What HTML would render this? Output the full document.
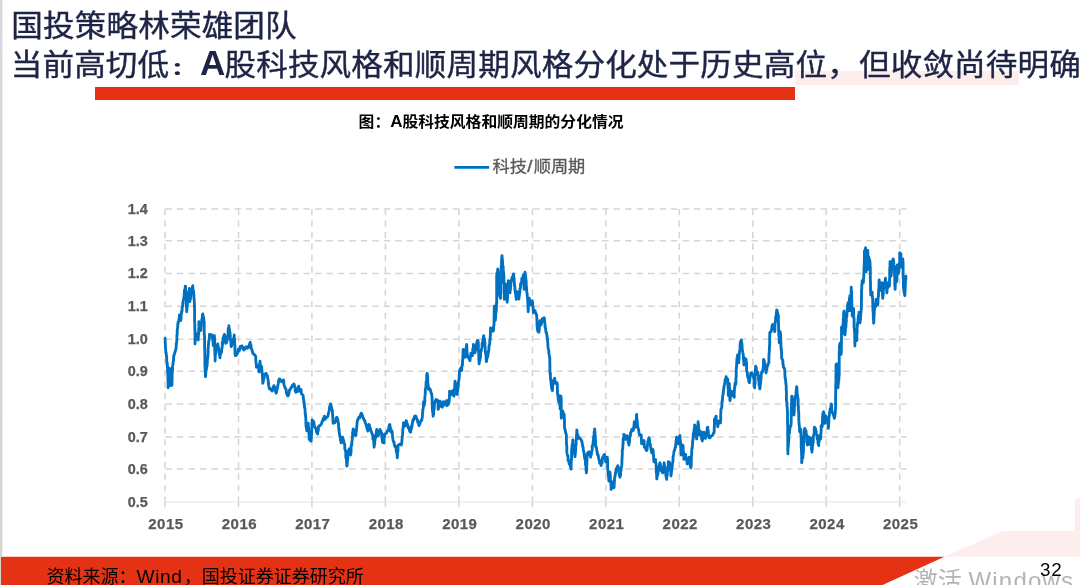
<!DOCTYPE html>
<html lang="zh-CN">
<head>
<meta charset="utf-8">
<title>国投策略林荣雄团队</title>
<style>
html,body{margin:0;padding:0;}
body{width:1080px;height:585px;overflow:hidden;background:#fff;position:relative;
 font-family:"Liberation Sans","Noto Sans CJK SC",sans-serif;}
.abs{position:absolute;white-space:nowrap;}
#strip{left:0;top:0;width:2px;height:557px;background:linear-gradient(180deg,#d7d8de 0,#d6d7db 40%,#d5d5d0 100%);}
#strip3{left:2px;top:0;width:1px;height:557px;background:#eeeeef;}
#strip2{left:0;top:557px;width:1.3px;height:28px;background:#d6d6ce;}
.title{color:#1e2446;font-size:31.6px;line-height:40px;letter-spacing:0.13px;-webkit-text-stroke:0.4px #1e2446;transform:scaleY(0.93);}
#t1{left:11.3px;top:5px;transform-origin:0 34.4px;}
#t2{left:10.7px;top:43px;transform-origin:0 34.4px;}
#t2 b{font-weight:700;font-size:35px;line-height:40px;margin-left:-1.0px;margin-right:-1.0px;-webkit-text-stroke:0;display:inline-block;transform:scaleY(1.0753);transform-origin:0 32.1px;vertical-align:baseline;}
#t2 i{font-style:normal;display:inline-block;line-height:40px;-webkit-text-stroke:3px #1e2446;transform:scale(0.68,0.536);transform-origin:9.4px 27.2px;}
#pink1{left:795px;top:71px;width:224px;height:14px;background:#fdedec;}
#redbar{left:94.7px;top:87.1px;width:700.2px;height:12.5px;background:#e63214;}
#sub{left:358.6px;top:110.4px;font-size:15.8px;font-weight:700;color:#000;line-height:24px;transform:scaleY(0.95);transform-origin:0 19px;}
#sub b{font-size:17px;line-height:24px;display:inline-block;transform:scaleY(1.05);transform-origin:0 18.6px;margin-right:-0.1px;}
#legend{left:492.5px;top:154.4px;font-size:17.2px;color:#595959;line-height:24px;-webkit-text-stroke:0.3px #595959;transform:scaleY(0.93);transform-origin:0 19.5px;}
#legend span{font-size:18.5px;-webkit-text-stroke:0.5px #595959;margin:0 1.4px 0 0.3px;}
#chart{left:0;top:0;}
#footer{left:46.6px;top:565.2px;font-size:18px;color:#000;line-height:24px;}
#pg{left:1040px;top:558.3px;font-size:18.8px;color:#000;line-height:24px;letter-spacing:0.8px;}
#wm{left:913.8px;top:564.6px;font-size:24px;color:#b4b4b4;line-height:32px;}
</style>
</head>
<body>
<svg id="chart" class="abs" width="1080" height="585" viewBox="0 0 1080 585">
  <polygon points="944.4,556.7 1080,497.3 1080,556.7" fill="#fdedec"/>
  <rect x="100" y="105" width="975" height="426" fill="#ffffff"/>
  <polygon points="0,556.7 944.4,556.7 882.6,585 0,585" fill="#e63214"/>
  <g stroke="#d5d5d5" stroke-width="1.5" fill="none">
<line x1="165.5" y1="208.9" x2="906.4" y2="208.9" stroke-dasharray="6.4 5.09"/>
<line x1="165.5" y1="240.8" x2="906.4" y2="240.8" stroke-dasharray="6.4 5.09"/>
<line x1="165.5" y1="273.5" x2="906.4" y2="273.5" stroke-dasharray="6.4 5.09"/>
<line x1="165.5" y1="306.3" x2="906.4" y2="306.3" stroke-dasharray="6.4 5.09"/>
<line x1="165.5" y1="339.2" x2="906.4" y2="339.2" stroke-dasharray="6.4 5.09"/>
<line x1="165.5" y1="371.2" x2="906.4" y2="371.2" stroke-dasharray="6.4 5.09"/>
<line x1="165.5" y1="404.1" x2="906.4" y2="404.1" stroke-dasharray="6.4 5.09"/>
<line x1="165.5" y1="436.9" x2="906.4" y2="436.9" stroke-dasharray="6.4 5.09"/>
<line x1="165.5" y1="469.1" x2="906.4" y2="469.1" stroke-dasharray="6.4 5.09"/>
<line x1="165.0" y1="208.9" x2="165.0" y2="502" stroke-dasharray="6.4 5.1"/>
<line x1="165.0" y1="502" x2="165.0" y2="507.3"/>
<line x1="238.5" y1="208.9" x2="238.5" y2="502" stroke-dasharray="6.4 5.1"/>
<line x1="238.5" y1="502" x2="238.5" y2="507.3"/>
<line x1="311.9" y1="208.9" x2="311.9" y2="502" stroke-dasharray="6.4 5.1"/>
<line x1="311.9" y1="502" x2="311.9" y2="507.3"/>
<line x1="385.4" y1="208.9" x2="385.4" y2="502" stroke-dasharray="6.4 5.1"/>
<line x1="385.4" y1="502" x2="385.4" y2="507.3"/>
<line x1="458.9" y1="208.9" x2="458.9" y2="502" stroke-dasharray="6.4 5.1"/>
<line x1="458.9" y1="502" x2="458.9" y2="507.3"/>
<line x1="532.4" y1="208.9" x2="532.4" y2="502" stroke-dasharray="6.4 5.1"/>
<line x1="532.4" y1="502" x2="532.4" y2="507.3"/>
<line x1="605.8" y1="208.9" x2="605.8" y2="502" stroke-dasharray="6.4 5.1"/>
<line x1="605.8" y1="502" x2="605.8" y2="507.3"/>
<line x1="679.3" y1="208.9" x2="679.3" y2="502" stroke-dasharray="6.4 5.1"/>
<line x1="679.3" y1="502" x2="679.3" y2="507.3"/>
<line x1="752.8" y1="208.9" x2="752.8" y2="502" stroke-dasharray="6.4 5.1"/>
<line x1="752.8" y1="502" x2="752.8" y2="507.3"/>
<line x1="826.2" y1="208.9" x2="826.2" y2="502" stroke-dasharray="6.4 5.1"/>
<line x1="826.2" y1="502" x2="826.2" y2="507.3"/>
<line x1="899.7" y1="208.9" x2="899.7" y2="502" stroke-dasharray="6.4 5.1"/>
<line x1="899.7" y1="502" x2="899.7" y2="507.3"/>
  </g>
  <line x1="165.0" y1="502" x2="906.0" y2="502" stroke="#e3e3e3" stroke-width="1.2"/>
  <line x1="454.4" y1="167.4" x2="489.2" y2="167.4" stroke="#0070c0" stroke-width="2.7"/>
  <polyline points="165.0,338.3 165.2,339.7 165.2,341.9 165.2,342.4 165.4,344.5 165.4,347.0 165.6,347.8 165.6,349.6 165.7,349.7 165.9,353.2 166.2,352.9 166.3,354.4 166.7,357.5 166.7,358.9 166.7,360.3 166.9,362.1 167.3,363.6 167.3,365.2 167.3,367.2 167.6,367.8 167.6,369.1 167.6,370.8 167.6,372.1 167.7,373.2 167.9,374.9 167.9,377.2 167.9,378.6 168.0,381.1 168.1,381.5 168.1,382.6 168.1,383.6 168.1,386.9 168.1,387.8 168.2,387.3 168.2,385.0 168.3,383.6 168.3,381.2 168.5,379.4 168.6,378.2 168.6,375.9 168.6,375.7 168.8,372.5 168.8,370.5 168.8,370.0 168.8,370.1 168.9,367.8 168.9,369.4 169.2,371.1 169.2,372.6 169.4,374.1 169.4,375.9 169.6,377.1 169.6,378.8 169.6,378.3 170.0,380.1 170.0,383.8 170.0,384.3 170.0,385.6 170.0,384.5 170.0,382.0 170.1,380.7 170.4,378.8 170.4,378.7 170.4,375.4 170.4,374.9 170.6,374.5 170.6,371.2 170.6,369.8 170.6,368.9 170.7,370.9 170.7,372.2 170.7,373.5 170.7,374.8 170.9,376.7 170.9,378.6 171.5,379.9 171.5,380.7 171.5,382.2 171.7,383.8 171.7,385.6 172.0,384.3 172.0,381.6 172.0,381.0 172.1,378.9 172.1,378.2 172.1,377.9 172.1,374.8 172.2,372.8 172.5,371.3 172.5,370.6 172.5,367.4 172.5,366.7 172.6,365.9 172.9,365.0 173.1,362.2 173.4,361.6 173.5,360.5 173.6,357.3 173.6,357.1 173.9,355.6 174.1,355.1 174.6,353.4 175.2,351.5 175.6,350.0 176.0,349.2 176.2,346.7 176.2,346.0 176.3,343.6 176.7,342.2 176.8,340.9 176.9,339.8 176.9,338.3 176.9,335.7 176.9,335.0 177.2,334.5 177.2,332.7 177.2,330.7 177.5,328.4 177.7,327.2 177.7,327.6 177.8,325.0 178.1,322.1 178.1,323.2 178.7,321.0 178.9,319.6 179.2,318.7 179.3,317.5 179.4,315.0 179.5,315.8 179.8,318.5 180.3,320.2 180.6,320.6 181.0,318.9 181.1,316.2 181.1,316.7 181.2,314.6 181.5,313.8 181.5,311.6 182.1,311.0 182.1,308.2 182.2,307.2 182.7,306.5 182.7,302.9 183.0,303.7 183.1,301.4 183.3,300.1 183.5,300.0 183.9,297.2 184.1,295.9 184.2,294.3 184.4,292.1 184.4,290.4 184.8,289.8 185.1,288.9 185.2,288.1 185.3,286.1 185.6,286.5 185.6,288.8 185.6,290.2 185.8,291.9 185.8,293.2 186.1,296.0 186.1,296.8 186.1,297.4 186.3,298.8 186.3,301.4 186.3,304.3 186.3,305.8 186.6,307.9 186.7,309.0 186.7,310.7 186.7,311.7 186.7,311.2 186.8,310.2 187.2,306.0 187.4,305.2 187.4,305.0 187.4,303.4 187.4,302.2 187.7,300.3 187.7,299.3 187.8,297.2 187.8,295.1 188.2,294.2 188.4,292.4 189.1,291.0 189.1,290.8 189.4,288.9 189.4,288.5 189.4,293.3 189.4,294.0 189.8,293.8 189.8,297.7 189.8,299.5 189.8,301.4 189.8,301.7 190.1,300.5 190.1,299.0 190.4,299.0 190.7,296.7 190.7,295.8 191.1,293.8 191.1,291.7 191.6,289.5 192.2,288.8 192.4,287.0 192.8,285.6 192.8,287.5 192.9,289.1 193.2,290.6 193.6,291.6 193.6,294.0 193.9,295.0 193.9,296.0 193.9,298.0 194.2,299.5 194.2,301.2 194.4,302.9 194.4,304.9 194.4,305.9 194.5,306.4 194.5,307.9 194.6,310.7 194.6,311.7 194.6,312.4 194.6,315.9 194.6,315.7 194.6,318.2 194.6,320.5 194.6,321.4 194.8,323.7 194.8,324.7 194.8,325.4 194.8,327.6 194.8,329.0 195.0,330.8 195.0,332.5 195.0,333.0 195.0,334.4 195.0,336.9 195.0,336.9 195.0,339.4 195.0,341.4 195.0,342.4 195.0,343.9 195.1,342.5 195.2,340.9 195.6,338.6 195.7,337.4 195.7,336.0 195.9,333.3 196.1,333.3 196.7,335.1 197.1,336.0 197.6,338.7 197.9,339.1 198.3,340.0 198.3,338.3 198.4,335.6 198.6,334.0 198.7,333.9 198.7,331.0 198.7,330.0 198.7,329.3 198.7,328.0 198.8,327.4 198.9,325.6 198.9,322.4 198.9,321.7 198.9,322.3 199.4,325.0 199.7,324.9 200.1,327.4 200.2,328.8 200.6,330.6 200.9,329.6 200.9,327.8 201.2,325.9 201.3,322.5 201.7,321.9 201.8,321.6 201.8,319.8 202.1,318.2 202.4,316.9 202.4,314.8 202.8,313.9 203.1,315.8 203.4,316.9 203.6,317.8 203.9,319.4 203.9,320.4 204.2,322.1 204.2,324.0 204.2,327.2 204.2,326.7 204.2,329.3 204.2,328.1 204.2,331.9 204.3,334.7 204.5,335.0 204.5,336.6 204.6,337.8 204.6,338.9 204.6,339.6 204.6,342.1 204.6,345.1 204.6,345.9 204.6,346.5 204.6,348.5 204.8,350.1 204.8,352.4 204.8,352.7 204.9,355.2 204.9,355.2 204.9,356.7 204.9,359.3 204.9,359.8 204.9,362.4 204.9,363.3 204.9,366.0 205.1,367.1 205.1,367.8 205.1,369.8 205.3,369.4 205.3,373.6 205.4,372.6 205.4,374.0 205.4,376.7 205.7,375.1 205.7,373.5 205.9,372.2 205.9,369.7 206.4,369.6 206.5,367.6 207.0,365.9 207.0,366.0 207.2,363.3 207.3,361.5 207.4,359.8 207.4,359.0 207.8,357.7 207.9,355.2 208.1,354.3 208.1,352.3 208.1,351.3 208.1,349.5 208.1,348.5 208.3,346.7 208.6,343.7 208.6,342.9 208.7,341.3 208.8,341.0 209.3,339.6 209.3,337.7 209.5,334.9 209.5,334.4 210.7,334.7 212.2,335.0 212.3,336.4 212.5,338.6 212.9,340.9 212.9,340.6 213.2,343.7 213.2,344.3 213.3,345.6 213.4,344.1 213.9,342.7 214.0,341.9 214.0,338.5 214.1,338.8 214.4,337.3 214.4,335.6 214.5,338.3 214.6,338.3 214.6,339.4 214.7,342.2 214.7,343.7 214.7,346.8 214.8,347.1 214.8,348.7 214.8,350.2 214.8,351.7 214.9,352.7 214.9,355.1 215.1,356.1 215.1,358.7 215.1,360.1 215.1,361.1 215.1,359.0 215.2,359.1 215.2,356.1 215.6,353.6 215.7,353.2 215.8,350.7 216.1,350.0 216.3,347.0 217.0,346.5 217.2,346.1 217.8,343.9 218.0,345.8 218.1,345.8 218.7,349.2 218.7,349.9 218.9,351.8 219.5,354.4 219.5,354.2 219.7,356.2 220.0,357.8 220.1,355.4 220.5,353.2 220.7,353.8 220.9,353.8 221.6,351.1 221.7,348.9 222.1,347.8 222.3,345.8 222.3,342.1 222.6,344.0 222.6,343.6 222.9,340.2 223.0,338.5 223.3,337.8 223.6,336.7 224.0,335.6 224.4,334.4 224.9,336.3 224.9,337.3 225.3,338.0 225.3,341.5 225.5,342.7 225.8,343.3 226.5,342.5 226.9,341.4 227.2,340.0 227.2,339.2 227.7,336.0 227.7,336.4 228.1,334.5 228.1,332.8 228.1,331.3 228.3,328.3 228.4,329.5 228.8,326.7 228.9,325.6 228.9,326.9 229.4,329.3 229.7,331.2 229.7,331.4 230.1,333.6 230.3,335.9 230.3,336.7 230.3,337.7 230.5,339.9 230.8,341.4 230.9,342.2 231.0,344.4 231.0,344.1 231.2,346.7 231.8,345.0 231.8,344.5 232.3,342.9 232.8,341.1 232.9,340.8 233.4,339.0 234.1,336.7 234.2,335.0 234.2,338.2 234.2,336.7 234.6,340.5 234.6,341.8 234.7,343.0 234.8,345.3 234.9,346.1 234.9,346.2 235.0,349.6 235.0,350.3 235.0,352.4 235.1,353.5 235.3,355.6 236.2,355.3 236.9,354.6 237.8,352.2 238.4,349.1 239.0,351.2 240.0,348.9 240.2,346.3 241.1,346.1 242.2,346.0 243.2,348.9 243.9,350.0 244.4,349.5 245.2,347.9 246.1,346.7 247.4,348.2 248.3,347.8 248.7,346.2 249.2,345.5 249.9,343.0 250.2,342.2 250.6,344.0 250.9,345.1 251.0,346.8 251.4,348.9 252.0,349.6 252.2,351.1 252.9,353.4 254.0,354.3 254.6,354.9 255.6,356.1 255.8,357.5 255.8,359.8 255.9,361.2 256.1,362.6 256.1,363.8 256.4,365.4 256.4,367.2 257.3,365.9 258.3,365.6 258.7,367.4 258.7,368.2 258.7,371.0 258.9,371.7 259.0,371.8 259.1,366.7 259.1,367.1 259.7,365.1 259.7,362.9 260.0,363.3 260.0,361.1 260.0,362.1 260.3,364.1 260.3,364.4 260.7,365.6 260.7,367.6 260.8,370.3 261.1,371.1 261.1,367.9 261.5,367.9 261.7,366.7 261.7,368.8 261.7,367.9 262.0,373.1 262.0,372.0 262.4,374.9 262.4,375.4 262.5,377.5 262.5,378.4 262.7,379.1 262.7,382.6 262.8,383.3 263.1,382.0 263.3,381.1 263.7,379.3 264.1,377.8 264.3,376.9 264.4,374.4 265.0,374.1 266.1,373.3 266.7,374.6 267.2,375.6 267.5,376.7 267.7,378.1 268.0,379.5 268.2,380.5 268.4,383.5 268.7,385.5 268.8,386.1 269.2,387.5 269.4,388.9 270.2,388.3 271.1,390.0 272.2,391.1 272.6,389.8 273.1,389.0 273.2,387.4 273.9,385.6 274.4,386.7 274.8,387.9 275.0,389.2 275.3,390.7 275.9,392.4 276.1,393.3 276.7,391.9 276.7,390.5 277.4,388.0 277.7,386.1 277.8,386.7 277.9,385.2 278.2,384.0 278.7,380.3 279.3,380.5 279.4,378.9 280.1,379.4 280.9,380.9 281.7,381.7 282.8,380.5 283.6,380.0 283.8,381.7 283.9,383.6 284.1,385.0 284.4,386.1 285.1,387.6 285.2,388.3 286.0,389.0 286.4,392.5 286.8,393.9 287.3,395.3 287.8,396.1 288.4,393.9 288.7,394.9 289.0,393.0 289.4,390.0 290.4,389.2 291.0,387.6 291.7,387.2 292.4,385.3 293.0,386.0 293.9,383.9 294.4,385.3 294.4,386.4 294.9,386.7 295.2,387.8 295.2,390.8 295.8,392.2 297.2,391.7 297.4,390.3 298.0,388.3 298.5,387.0 298.7,386.1 298.9,387.7 298.9,389.0 299.1,390.6 299.4,391.1 300.1,390.3 300.9,389.4 301.2,391.1 301.3,393.4 301.7,393.9 302.0,394.2 303.0,395.1 303.3,396.7 303.3,398.3 303.8,400.2 303.8,402.3 304.0,402.0 304.3,405.6 304.4,406.1 304.6,407.7 305.0,408.6 305.1,409.9 305.1,412.1 305.4,415.1 305.6,415.0 305.6,416.0 305.8,418.3 305.9,420.4 305.9,421.0 305.9,422.7 305.9,423.9 306.1,426.2 306.1,426.7 306.3,427.5 306.8,430.7 306.9,430.6 307.3,429.6 307.6,429.1 307.7,426.3 307.9,424.7 308.3,423.3 308.3,424.1 308.4,426.5 308.7,428.2 308.7,429.1 308.7,429.7 308.9,431.9 308.9,434.0 309.2,435.7 309.2,438.4 309.2,438.9 310.0,440.1 311.1,441.1 311.1,439.5 311.4,438.0 311.4,434.8 311.4,435.6 311.6,433.1 311.6,431.3 311.8,429.7 311.8,427.6 311.9,427.8 311.9,424.9 311.9,425.0 311.9,423.3 312.1,422.5 312.1,420.0 312.5,420.7 313.3,421.1 314.0,422.8 314.0,423.9 314.4,426.0 315.0,427.2 315.6,428.2 316.1,428.9 316.5,432.1 317.2,433.0 317.6,433.9 317.6,433.0 318.3,429.3 318.3,430.8 318.5,426.7 318.9,426.1 319.9,425.7 320.6,425.0 321.5,423.8 322.1,421.5 322.8,421.1 323.1,418.8 323.7,418.9 323.9,417.6 324.4,416.1 324.4,416.9 324.7,419.0 325.0,419.4 325.8,418.1 326.7,417.2 327.1,417.3 328.0,415.9 328.3,413.9 328.7,412.3 328.9,411.9 329.3,409.9 329.4,408.3 329.8,406.2 330.0,406.3 330.6,403.9 331.1,405.5 331.1,406.4 331.8,408.6 332.0,409.4 332.4,411.0 332.4,413.4 332.6,414.1 332.6,416.0 332.9,418.0 332.9,418.6 332.9,422.0 333.0,421.5 333.3,423.3 334.1,421.6 334.9,422.6 335.6,420.6 336.1,420.1 336.3,417.8 336.7,417.2 337.1,417.8 337.8,419.7 338.0,420.6 338.0,421.9 338.5,423.9 338.5,425.9 338.5,425.8 338.8,429.6 339.1,428.9 339.1,431.7 339.4,432.8 339.4,434.1 340.0,436.4 340.0,436.6 340.3,437.6 340.4,440.1 340.8,440.4 341.1,442.8 341.2,441.8 341.6,439.6 341.8,438.2 342.2,437.2 342.6,437.1 343.3,439.8 343.9,441.1 344.0,443.4 344.7,444.0 344.8,446.3 344.8,449.0 345.2,450.1 345.6,450.6 345.8,453.4 345.8,453.5 345.8,455.6 345.9,457.8 346.2,458.2 346.5,460.0 346.6,461.1 346.6,462.2 346.7,465.2 346.9,466.1 347.2,465.3 347.2,463.7 347.4,461.0 347.6,459.4 347.8,458.6 347.9,457.0 348.0,454.1 348.0,453.2 348.3,451.5 348.3,450.6 348.9,450.4 349.1,448.9 349.6,450.9 349.8,451.6 350.2,453.1 350.6,455.0 350.8,452.9 351.1,451.4 351.1,450.9 351.1,449.9 351.1,445.3 351.4,446.0 351.8,445.0 351.8,442.8 351.9,442.3 352.1,440.5 352.3,438.7 352.6,435.5 352.6,435.0 352.6,432.0 353.1,433.0 353.1,429.4 353.3,428.9 354.0,430.9 354.1,431.2 354.5,432.8 355.0,433.9 355.4,435.5 355.8,435.6 356.0,434.1 356.0,432.1 356.4,431.4 356.4,430.2 356.7,427.5 356.7,425.9 357.0,425.1 357.0,423.6 357.2,421.7 357.8,419.2 358.3,419.0 358.9,417.2 359.7,417.8 360.4,415.2 361.1,413.3 361.6,413.4 362.4,415.6 362.8,417.2 363.3,418.0 363.8,419.4 364.4,420.0 364.8,420.9 365.1,422.2 365.9,424.2 366.1,425.2 366.7,426.7 367.0,428.7 367.5,428.7 367.8,431.1 367.9,430.2 368.0,429.8 368.6,426.5 368.6,426.9 368.9,424.4 369.5,425.1 369.5,427.1 370.4,428.5 370.6,430.0 370.9,430.9 371.5,432.0 372.1,433.9 372.8,435.0 372.8,437.8 372.9,439.1 373.5,438.8 373.5,440.1 373.8,441.8 373.8,444.5 374.0,444.3 374.1,447.2 374.3,444.6 374.7,444.1 374.7,442.4 374.8,441.3 375.1,439.8 375.2,438.7 375.6,437.2 375.8,434.8 376.2,434.2 376.2,434.0 376.5,431.1 376.7,429.4 376.8,430.0 377.1,430.9 377.4,433.7 377.6,434.7 377.8,436.1 378.3,435.8 378.9,433.6 379.1,431.1 379.5,432.6 380.0,429.4 380.7,430.9 381.2,431.9 381.7,433.3 381.7,433.9 381.8,437.4 381.8,436.2 382.0,438.7 382.3,439.4 382.3,441.7 383.0,442.7 383.9,442.8 384.0,441.7 384.0,439.1 384.4,436.3 384.6,436.8 384.6,435.1 384.7,433.9 385.7,433.9 386.7,432.8 387.3,430.8 388.3,430.6 388.8,428.0 388.8,428.2 389.3,425.3 389.8,424.4 390.1,426.4 390.1,427.4 390.5,428.1 390.5,429.1 390.6,431.7 391.7,430.6 392.0,431.3 392.2,433.0 392.4,435.0 392.5,436.3 392.8,438.3 393.0,439.7 393.2,440.7 393.9,442.6 394.0,442.0 394.4,445.0 395.0,446.7 395.4,446.0 396.1,448.3 396.2,449.7 396.4,452.2 396.4,452.0 396.9,453.3 397.2,456.6 397.2,457.8 397.4,456.5 397.4,455.7 397.5,453.1 398.0,450.6 398.0,449.7 398.0,449.0 398.0,448.0 398.0,446.5 398.3,445.0 399.3,444.6 400.0,443.9 401.1,445.0 401.1,445.1 401.7,443.7 401.9,441.1 401.9,439.8 402.2,438.3 402.2,436.7 402.6,434.7 402.7,433.3 402.7,430.7 402.8,429.7 403.1,428.1 403.1,427.4 403.1,427.8 403.4,425.4 403.4,422.8 403.6,424.0 404.1,424.5 404.7,426.1 405.2,425.8 405.3,423.1 405.8,422.0 406.1,420.6 406.3,420.9 407.1,423.8 407.4,424.0 407.8,426.1 408.2,428.0 408.9,427.3 409.1,429.4 410.0,431.7 410.6,432.2 410.6,430.3 411.4,429.2 411.4,427.6 411.7,425.3 412.0,426.7 412.2,423.9 412.5,422.3 413.0,419.7 413.6,420.4 413.9,418.3 414.9,415.9 415.6,416.1 416.0,416.3 416.6,418.9 417.2,419.4 417.6,420.7 417.7,422.5 418.5,421.7 418.8,424.9 419.1,425.6 419.4,423.1 419.9,424.1 420.2,422.2 421.2,420.3 421.7,420.6 421.9,418.9 422.2,417.9 422.4,416.5 422.4,415.8 422.6,412.3 422.8,411.7 422.8,409.5 423.1,408.8 423.1,408.6 423.4,407.1 423.4,405.2 423.6,401.7 423.6,401.7 423.9,402.0 424.0,402.9 424.4,405.0 424.4,403.6 424.6,402.5 424.8,401.5 424.8,398.2 424.8,397.9 424.9,396.6 425.2,394.4 425.3,393.0 425.3,390.9 425.3,389.7 425.6,388.3 426.0,386.8 426.0,385.9 426.1,383.9 426.1,381.7 426.7,381.0 426.7,378.6 426.7,378.7 426.7,374.6 426.9,375.0 427.2,373.3 427.2,375.2 427.4,374.8 427.7,377.2 427.7,379.4 427.7,380.5 427.7,383.5 428.0,384.9 428.1,383.9 428.1,385.1 428.5,387.6 428.5,389.4 429.4,389.3 430.0,388.9 430.3,390.2 430.8,391.6 431.4,394.0 431.7,393.9 431.7,394.5 431.9,397.2 432.1,397.3 432.1,400.4 432.2,401.7 432.2,402.8 432.3,404.0 432.3,406.1 432.3,408.1 432.3,409.4 432.5,409.9 432.6,411.9 433.0,413.2 433.0,414.6 433.1,416.1 433.1,416.3 433.7,413.4 433.7,412.6 433.7,408.8 434.1,409.9 434.2,407.9 434.4,404.8 434.4,403.9 435.0,402.6 435.4,400.6 436.1,399.4 436.7,399.7 437.8,400.6 437.8,401.8 438.1,402.6 438.1,404.9 438.1,407.2 438.1,408.3 438.3,409.4 438.6,407.5 438.7,406.0 439.4,406.7 439.5,405.4 439.6,403.1 440.0,401.1 440.3,401.9 440.7,404.0 441.5,403.8 441.7,406.7 442.3,407.2 442.7,404.7 442.7,403.3 443.3,401.7 444.1,402.7 444.2,403.3 445.0,405.0 445.4,403.8 445.9,401.4 446.7,400.6 446.7,402.3 446.9,402.3 447.1,404.8 447.2,405.6 447.6,404.4 448.4,404.3 448.9,402.8 448.9,402.6 449.2,400.3 449.3,398.8 449.4,397.2 449.5,395.6 449.6,394.7 449.6,393.0 449.6,391.1 449.7,391.5 450.3,393.6 450.6,395.0 450.9,393.1 451.8,393.0 452.4,391.0 452.8,390.6 453.3,391.8 453.3,393.3 453.5,395.1 453.9,396.1 454.2,394.2 454.2,392.8 454.3,391.9 454.3,391.0 454.5,388.6 454.7,388.0 454.8,386.4 454.8,383.6 455.0,383.7 455.0,381.1 455.5,383.8 455.6,384.2 455.9,383.9 456.1,386.1 456.1,387.4 456.3,389.4 456.5,390.2 456.6,391.7 456.8,394.4 457.2,394.4 457.2,392.9 457.6,391.2 457.9,389.5 457.9,388.5 457.9,388.3 458.3,386.1 458.3,383.8 458.5,382.3 458.5,381.7 458.9,379.8 459.1,378.9 459.2,377.8 459.2,376.5 459.3,375.1 459.4,372.8 459.8,369.7 460.1,370.3 460.6,368.3 461.3,368.7 461.7,370.6 461.7,369.1 461.9,366.7 462.3,363.9 462.5,365.0 462.5,363.2 462.6,359.7 462.8,359.4 462.8,359.7 462.9,356.1 463.0,354.7 463.0,353.2 463.0,351.5 463.1,351.2 463.3,349.4 463.9,352.3 464.1,352.3 464.5,354.7 464.5,354.2 465.0,357.2 465.3,355.4 465.3,353.9 465.6,351.3 465.6,351.1 466.2,349.3 466.2,348.6 466.2,346.9 466.5,346.9 466.7,344.4 466.7,346.7 466.9,347.0 466.9,348.3 466.9,350.0 467.1,351.3 467.1,353.7 467.5,355.2 467.5,356.3 467.6,357.2 468.2,357.4 469.3,359.0 470.0,360.6 470.2,358.2 470.3,357.9 470.4,356.0 470.7,355.3 470.9,353.3 471.4,353.7 472.4,355.6 472.5,354.6 472.7,352.7 472.8,350.4 472.8,348.7 473.2,349.8 473.4,346.2 473.4,344.4 473.6,346.1 473.9,347.9 474.3,348.9 474.7,350.4 474.8,351.7 475.0,352.8 475.2,351.6 475.6,350.2 476.0,347.0 476.1,345.5 476.5,344.8 476.7,343.3 477.3,340.7 478.0,340.6 478.3,342.4 478.3,342.5 478.4,345.3 478.4,346.7 478.4,346.4 478.4,349.9 478.6,351.8 478.6,351.5 478.8,353.8 478.8,356.4 478.8,356.9 478.8,359.8 479.0,361.1 479.0,360.9 479.1,363.9 479.2,362.6 479.6,361.4 480.1,359.0 480.1,357.6 480.6,357.0 480.6,353.5 480.6,351.7 481.1,351.7 481.1,351.0 481.8,348.0 482.0,347.0 482.1,343.4 482.3,343.9 482.5,342.8 482.8,341.7 483.0,339.5 483.3,337.5 483.5,338.6 483.7,335.6 483.8,337.7 484.1,339.0 484.5,338.7 484.5,340.9 484.9,342.1 484.9,345.0 485.0,346.1 485.0,346.3 485.2,349.0 485.4,352.2 485.4,352.1 485.9,354.8 486.1,354.7 486.1,357.6 486.1,358.1 486.1,359.2 486.4,361.7 486.6,360.2 487.0,358.2 487.7,356.8 487.8,356.1 487.9,354.6 488.3,353.2 488.3,351.5 488.5,351.6 488.9,349.7 488.9,346.9 489.1,345.4 489.4,345.0 489.7,343.7 489.8,339.8 489.9,340.5 490.2,340.0 490.2,338.3 490.2,337.1 490.3,335.7 490.5,334.1 490.5,331.3 490.5,329.9 490.6,329.4 490.6,327.8 491.0,328.2 491.5,330.3 492.2,331.1 493.1,331.1 493.6,330.0 493.6,327.8 493.6,326.5 493.7,326.7 494.0,324.2 494.0,321.1 494.0,320.8 494.0,320.2 494.1,316.6 494.1,315.9 494.2,313.5 494.2,310.6 494.2,310.9 494.2,309.2 494.4,307.2 494.4,306.1 494.4,306.2 494.4,309.1 494.8,310.1 494.8,312.3 494.8,313.0 494.8,314.6 494.8,316.0 495.3,317.8 495.3,318.8 495.3,320.6 495.3,319.6 495.6,317.7 495.6,316.4 495.6,315.4 495.8,314.3 496.0,312.1 496.3,310.1 496.3,309.1 496.4,307.1 496.4,306.1 496.4,303.2 496.7,304.3 496.7,300.9 496.7,299.9 496.7,298.2 496.7,296.2 496.7,294.8 496.7,294.1 496.7,292.4 496.7,290.3 496.7,288.8 496.7,288.7 496.7,285.3 496.7,284.1 496.7,283.4 496.7,282.5 496.7,280.4 496.7,278.7 496.7,276.5 496.7,275.0 496.8,273.7 497.1,272.8 497.5,271.3 497.8,268.9 498.1,271.6 498.3,271.3 498.3,274.0 498.5,275.6 498.5,276.4 498.7,278.3 498.8,279.3 499.0,281.3 499.0,282.5 499.0,284.2 499.3,285.8 499.3,287.5 499.3,288.0 499.3,291.0 499.3,292.8 499.4,293.9 499.9,296.0 500.0,297.0 500.6,298.3 500.7,297.3 500.7,294.4 500.7,292.6 500.7,292.6 500.7,291.2 500.7,287.9 500.7,288.1 500.7,285.1 500.7,285.3 501.0,283.6 501.0,281.2 501.0,279.3 501.0,278.1 501.0,275.1 501.2,275.7 501.2,273.2 501.2,271.8 501.2,268.9 501.2,269.9 501.2,267.2 501.2,266.2 501.5,264.7 501.5,262.7 501.5,261.0 501.7,258.6 501.8,259.5 501.8,256.8 502.0,255.6 502.1,257.6 502.1,258.7 502.5,259.7 502.6,261.6 502.6,262.7 502.7,264.6 502.8,266.1 503.2,266.6 503.2,268.3 503.2,270.4 503.5,271.9 503.5,271.4 503.6,273.7 503.8,274.8 503.9,276.4 503.9,278.3 503.9,280.3 503.9,281.8 503.9,283.4 504.1,284.6 504.1,285.5 504.1,287.5 504.1,288.6 504.1,290.7 504.1,293.1 504.4,293.3 504.4,295.9 504.4,296.3 504.4,297.5 504.4,299.4 504.4,298.1 504.7,297.3 505.0,294.3 505.0,292.9 505.0,291.2 505.3,291.4 505.3,288.8 505.5,287.4 505.7,286.4 505.7,283.9 505.9,286.1 506.0,288.1 506.1,288.3 506.1,290.4 506.2,290.9 506.6,293.8 506.6,294.6 506.7,296.3 507.0,298.1 507.2,298.1 507.2,299.8 507.2,302.2 507.2,300.7 507.5,298.9 507.5,297.4 507.5,294.2 507.5,295.2 507.8,292.5 507.8,291.6 508.0,290.6 508.0,287.1 508.0,286.5 508.1,286.3 508.3,283.2 508.4,282.8 508.4,280.6 508.4,282.5 508.7,283.4 508.8,284.5 509.0,286.4 509.6,287.8 509.8,290.5 510.0,292.6 510.0,292.8 510.2,289.7 510.4,289.8 510.5,288.0 510.8,286.4 510.8,286.1 510.8,283.2 511.2,281.6 511.2,280.6 511.6,279.9 511.8,278.4 512.2,277.2 512.6,277.1 513.2,275.6 513.6,273.9 513.7,274.6 513.8,277.3 514.2,278.7 514.2,280.1 514.2,282.4 514.4,282.8 514.4,285.3 514.7,285.2 514.9,287.2 514.9,289.0 515.2,291.3 515.3,291.6 515.3,293.2 515.7,293.5 515.9,297.0 516.2,297.9 516.2,299.4 516.4,297.5 516.5,297.5 516.6,295.6 517.1,294.2 517.2,291.7 517.4,292.9 517.8,294.6 518.2,295.7 518.4,298.4 518.9,298.9 518.9,297.5 519.4,295.7 519.4,293.6 519.7,293.5 519.9,290.7 519.9,290.4 520.0,288.3 520.5,288.1 520.5,285.1 520.9,283.1 521.4,282.9 521.7,281.7 521.8,278.5 522.4,278.7 522.8,277.5 523.1,277.6 523.3,275.0 523.3,277.6 523.6,278.2 523.6,280.1 523.6,280.9 523.8,282.3 523.8,284.0 523.9,286.0 524.1,286.2 524.1,288.3 524.1,289.4 524.3,287.4 524.3,285.0 524.3,284.5 524.6,283.5 524.6,281.7 524.7,279.9 524.7,278.2 524.7,276.2 525.0,275.8 525.0,273.2 525.0,272.2 525.1,274.3 525.6,275.6 525.6,276.6 525.9,278.3 525.9,279.8 526.1,280.5 526.2,283.3 526.3,285.7 526.3,286.3 526.3,285.7 526.7,289.4 526.7,291.4 526.8,292.0 527.1,293.2 527.2,295.1 527.5,297.6 527.5,298.2 527.6,299.4 527.8,301.0 527.8,303.4 527.8,303.1 528.0,305.2 528.1,307.5 528.1,309.7 528.2,309.7 528.2,311.7 528.3,310.1 528.3,307.8 528.3,306.5 528.6,305.5 528.8,303.3 528.9,304.8 529.1,301.3 529.1,300.4 529.4,298.3 529.6,301.2 529.9,301.1 529.9,301.8 530.1,303.4 530.6,305.0 531.2,303.3 531.7,302.7 532.2,300.6 532.6,302.7 532.6,303.4 532.7,305.6 533.0,306.9 533.0,307.4 533.2,310.7 533.4,312.0 533.4,312.8 534.1,312.0 535.0,310.6 535.4,312.0 536.0,313.7 536.7,315.0 536.7,316.3 536.7,317.4 536.9,318.1 536.9,319.9 537.0,322.0 537.0,321.7 537.0,325.7 537.0,325.1 537.4,328.3 537.4,329.4 537.8,331.2 538.2,331.8 538.9,332.2 539.2,330.5 539.3,328.9 539.3,327.2 539.3,327.1 539.6,325.2 539.8,323.0 539.8,322.8 540.0,320.6 540.6,321.9 540.8,323.5 541.1,325.0 541.4,323.7 541.8,321.9 541.8,320.3 542.2,318.9 543.0,318.6 544.2,317.8 544.5,319.2 544.5,320.2 544.6,321.0 544.8,323.1 545.0,324.2 545.0,326.1 545.1,327.0 545.6,328.5 545.6,328.9 545.9,331.7 546.1,332.8 546.4,332.2 546.7,334.0 547.2,337.2 547.2,338.5 547.6,339.2 547.6,342.0 547.9,343.9 547.9,344.8 547.9,346.8 548.2,348.0 548.3,349.4 548.8,350.5 548.8,352.4 549.1,354.4 549.4,356.0 549.4,357.2 549.6,356.7 549.8,358.2 549.8,359.8 549.8,362.0 549.8,362.5 549.8,364.3 549.9,364.8 549.9,368.0 549.9,369.3 549.9,370.0 549.9,370.3 550.1,373.8 550.4,373.0 550.4,376.8 550.4,377.5 550.6,379.5 550.9,380.4 551.0,382.4 551.1,383.3 551.2,384.1 551.7,388.5 552.1,388.5 552.1,390.4 552.4,390.6 552.5,389.0 552.7,386.0 552.7,384.3 553.1,384.4 553.2,382.0 553.3,381.1 554.2,379.2 554.7,378.3 554.9,380.0 555.4,382.3 555.7,382.4 555.8,383.3 557.0,382.8 557.3,383.9 557.3,385.6 557.4,387.3 557.4,390.3 557.5,390.2 557.5,391.9 557.5,393.2 557.6,394.4 557.9,395.1 558.2,399.0 558.2,399.3 558.6,400.6 558.7,402.2 558.8,400.8 558.8,399.4 558.9,397.9 559.5,397.0 559.5,395.6 559.5,396.4 559.6,399.9 559.6,400.5 559.8,402.1 559.8,403.7 559.8,405.4 560.1,405.4 560.1,408.1 560.1,408.9 560.3,407.9 560.3,408.0 560.3,404.6 560.3,403.7 560.4,402.7 560.6,400.6 560.8,398.9 560.9,397.6 560.9,396.1 561.0,396.8 561.2,399.0 561.2,401.6 561.2,401.5 561.2,402.1 561.2,406.4 561.2,406.7 561.2,408.8 561.2,408.8 561.2,411.7 561.2,411.9 561.2,413.9 561.2,416.1 561.4,417.7 561.4,418.3 561.4,415.8 561.9,415.2 562.2,413.4 562.2,411.8 562.8,411.1 563.3,414.2 563.5,414.2 564.1,414.1 564.2,416.1 564.4,417.7 564.4,420.1 564.4,420.4 564.5,421.3 564.5,423.2 564.5,424.4 564.5,426.7 564.8,429.0 564.8,429.4 565.2,429.7 565.6,432.6 566.1,433.9 566.4,435.5 566.4,437.4 566.4,437.6 566.4,440.0 566.4,442.3 566.5,444.5 566.7,445.5 566.7,444.9 566.8,446.8 566.8,449.4 566.8,451.8 566.9,452.5 567.2,454.1 567.5,455.3 567.5,455.5 568.0,455.8 568.1,460.7 568.3,460.6 568.9,460.7 569.1,463.6 569.7,464.5 570.1,465.6 570.6,467.2 571.1,469.1 571.1,468.1 571.1,466.4 571.1,465.5 571.2,462.9 571.2,461.0 571.4,460.2 571.6,458.2 571.6,457.2 571.6,456.2 571.6,453.8 571.6,452.6 571.6,450.8 571.7,449.4 571.9,447.3 572.0,446.6 572.3,444.1 572.6,443.6 572.7,441.4 572.8,440.0 572.9,440.8 572.9,443.9 573.3,444.7 573.5,445.6 573.5,448.9 573.9,449.4 574.2,450.2 574.5,451.5 574.5,454.0 574.7,453.7 575.0,456.7 575.1,455.5 575.4,452.4 575.5,452.2 575.6,450.7 575.7,449.5 575.7,448.1 575.8,445.2 576.1,445.0 576.1,444.7 576.1,442.6 576.1,440.5 576.4,438.0 576.4,437.3 576.5,435.2 576.8,433.6 576.8,433.5 576.8,431.8 576.8,430.0 577.0,431.1 577.1,435.0 577.4,434.2 578.0,435.3 578.1,437.5 578.3,438.3 578.9,437.5 580.0,438.3 580.7,439.4 581.7,440.6 582.1,442.9 582.1,442.5 582.5,445.1 582.7,446.7 583.1,447.1 583.3,449.4 583.5,451.1 584.0,452.5 584.1,453.3 584.3,455.8 584.5,456.8 584.6,457.4 585.0,459.4 585.3,460.7 585.5,462.1 585.5,465.0 585.6,463.7 586.0,467.3 586.0,469.1 586.0,470.1 586.3,471.5 586.4,472.8 586.4,471.1 586.7,470.7 586.7,467.9 586.7,466.3 586.7,464.4 586.9,464.1 586.9,462.1 586.9,461.2 587.0,459.6 587.0,457.0 587.1,457.0 587.1,455.0 587.3,453.7 588.3,452.4 588.9,451.7 589.2,454.4 589.6,454.8 590.2,455.3 590.6,457.2 590.7,455.3 591.4,454.7 591.4,452.2 591.8,451.6 592.2,449.4 592.2,445.9 592.5,445.5 592.8,445.4 593.1,443.8 593.1,442.0 593.5,439.8 593.6,438.3 593.6,436.4 594.1,437.4 594.1,432.5 594.4,431.9 594.5,431.1 594.7,428.9 594.8,430.7 595.0,431.7 595.0,432.6 595.0,434.4 595.3,436.2 595.3,439.5 595.3,439.6 595.6,440.8 595.6,441.4 595.6,443.9 595.7,446.9 596.1,446.6 596.7,449.3 596.8,450.7 597.2,451.7 597.3,454.4 597.9,454.5 598.4,456.2 598.4,457.2 598.9,459.4 599.3,460.2 599.6,462.8 600.3,463.7 600.7,463.9 601.1,465.6 601.2,464.8 601.6,463.6 602.1,463.0 602.1,460.6 602.3,458.0 602.8,457.2 603.3,456.6 603.9,455.1 604.4,454.4 604.5,456.5 604.9,457.9 605.0,458.1 605.3,460.2 605.6,461.7 606.0,460.3 606.9,459.1 607.2,457.2 607.2,457.1 607.6,460.2 607.6,460.4 607.6,463.3 607.6,464.9 607.6,467.5 607.8,468.5 607.8,469.4 608.0,471.0 608.0,472.2 608.0,473.5 608.4,474.1 608.4,475.9 608.8,478.2 608.8,480.6 608.9,481.1 609.2,478.8 609.2,477.4 609.7,477.0 609.7,474.4 609.8,474.4 610.0,472.2 610.0,473.5 610.3,475.4 610.3,478.1 610.3,478.3 610.4,480.4 610.9,480.6 610.9,485.0 610.9,483.9 611.1,486.4 611.1,487.9 611.1,489.4 611.5,486.9 611.6,487.3 612.2,484.0 612.7,483.4 612.8,482.2 613.1,484.0 613.5,485.0 613.8,486.0 613.9,487.8 614.1,487.4 614.2,484.2 614.3,482.8 614.3,481.6 614.5,481.1 614.5,478.8 614.5,477.8 615.0,476.6 615.3,474.5 615.3,473.1 615.6,473.0 616.1,470.0 616.7,468.0 617.4,467.2 617.8,465.6 617.9,466.6 618.4,467.6 618.7,470.5 618.8,470.7 618.9,473.3 619.3,474.4 619.8,476.1 620.0,477.2 620.4,475.2 620.6,475.2 620.6,473.7 620.6,471.4 621.1,470.2 621.2,467.8 621.4,466.8 621.7,465.6 621.9,464.5 621.9,462.1 621.9,460.6 622.0,459.3 622.1,457.3 622.1,457.4 622.2,455.8 622.3,453.8 622.3,452.6 622.3,450.6 622.4,449.3 622.7,449.1 622.9,445.3 622.9,445.0 623.1,443.4 623.1,441.4 623.1,439.8 623.3,438.3 623.8,437.0 623.8,434.4 624.2,434.4 624.5,436.1 625.1,437.7 625.2,438.8 625.6,439.4 626.3,436.9 626.7,438.1 627.2,435.6 627.5,438.1 628.0,439.2 628.1,439.6 628.3,442.7 628.8,442.3 628.9,445.0 629.1,443.4 629.1,440.7 629.6,442.1 629.6,438.7 629.9,436.7 630.0,436.1 630.5,435.7 630.5,432.7 631.2,431.9 631.5,431.1 631.7,429.4 632.5,430.6 633.3,430.6 633.3,429.9 633.8,426.6 633.8,426.9 634.1,424.7 634.2,422.5 634.4,421.7 634.9,424.1 635.1,424.3 635.4,424.4 635.6,427.2 635.8,427.1 635.8,424.3 636.1,423.4 636.1,421.7 636.2,419.5 636.4,419.0 636.4,417.0 636.4,415.8 636.7,414.4 636.7,416.1 636.8,419.2 636.9,418.3 637.1,420.6 637.3,421.4 637.4,423.4 637.5,424.7 637.5,426.4 637.8,427.2 638.3,428.6 638.5,429.0 638.9,432.3 639.2,433.3 639.4,435.0 640.3,435.4 641.1,435.0 641.3,435.4 641.3,437.6 641.4,438.4 641.4,442.2 641.7,442.0 641.7,443.9 642.2,442.4 643.1,442.1 643.9,440.6 644.2,441.0 644.2,443.2 644.2,445.1 644.3,445.9 644.4,447.2 645.3,447.2 646.0,449.9 646.7,450.6 647.1,449.4 647.3,446.7 647.3,445.0 647.5,445.5 647.8,442.8 648.0,441.1 648.2,440.5 648.8,438.4 648.9,437.8 649.3,438.5 649.6,440.7 649.6,443.0 650.0,444.6 650.4,444.2 650.6,447.2 650.9,448.6 651.0,449.2 651.6,451.9 651.7,452.8 651.9,452.0 652.5,449.2 652.8,449.4 653.1,451.0 653.3,451.6 653.3,454.0 653.5,454.2 653.6,457.9 653.7,459.5 653.8,460.1 653.9,461.7 654.9,460.8 655.6,459.4 655.6,460.9 655.6,462.9 656.0,463.0 656.0,463.6 656.2,466.8 656.2,468.1 656.2,471.0 656.3,471.4 656.5,473.7 656.7,474.7 656.7,477.3 656.7,477.7 656.9,478.9 657.0,477.0 657.4,475.6 657.5,475.0 658.0,474.6 658.0,472.3 658.3,470.6 658.8,468.1 659.0,468.3 659.1,466.0 659.7,463.5 660.0,462.8 660.2,463.5 660.3,464.9 660.8,467.4 661.1,470.4 661.1,470.6 661.9,471.6 662.8,472.8 663.0,471.6 663.0,469.9 663.5,467.4 663.6,467.4 663.8,465.4 663.9,464.6 664.2,462.8 664.4,464.6 664.6,466.8 664.6,467.4 664.9,469.6 665.4,468.8 665.5,470.9 665.6,472.8 665.9,475.7 666.1,474.9 666.1,477.2 666.6,478.3 666.7,479.4 666.7,477.8 666.9,475.4 667.3,475.5 667.3,474.4 667.3,472.5 667.7,470.7 667.7,469.4 667.7,466.8 667.9,466.9 668.3,465.7 668.3,464.3 668.3,461.7 669.3,462.1 670.0,463.9 670.1,465.7 670.2,467.2 670.2,468.6 670.6,470.6 670.8,471.1 670.8,471.3 670.9,474.5 670.9,476.1 671.3,473.8 671.3,473.0 671.5,471.4 671.8,469.7 672.0,468.2 672.2,466.4 672.2,465.0 672.4,463.6 672.7,462.6 673.0,460.8 673.0,458.0 673.0,457.7 673.1,456.7 673.6,454.2 673.7,453.5 673.9,451.7 674.5,450.5 675.0,447.9 675.6,447.2 675.6,444.9 675.9,444.3 676.0,442.7 676.1,441.0 676.4,439.0 676.4,438.3 676.7,437.2 677.2,437.8 677.2,439.7 677.9,441.1 678.1,442.7 678.3,443.9 678.8,443.2 678.8,440.3 679.0,438.8 679.2,439.7 679.5,436.7 680.0,435.6 680.0,437.2 680.3,440.3 680.5,441.0 680.5,441.1 680.6,443.1 680.6,444.7 680.6,447.2 680.8,447.3 680.8,449.5 681.0,451.3 681.0,453.3 681.2,452.4 681.2,455.0 681.3,452.3 681.6,451.7 681.6,449.6 681.8,448.5 682.3,447.3 682.3,446.3 682.8,445.0 683.1,446.4 683.2,447.7 683.2,449.0 683.2,450.9 683.6,451.9 683.6,453.8 683.7,454.9 683.8,456.8 683.8,458.2 683.9,459.4 684.2,457.9 684.8,457.0 685.4,455.3 685.6,454.4 685.6,456.0 685.9,457.5 686.4,458.8 686.6,459.8 687.0,461.5 687.2,463.9 687.8,463.1 688.1,461.1 688.4,458.6 688.6,458.5 688.9,457.2 689.4,458.5 689.4,458.8 690.0,462.4 690.0,462.2 690.2,465.2 690.4,465.9 690.9,467.8 690.9,466.9 691.2,465.9 691.2,463.3 691.3,463.2 691.3,458.4 691.3,459.0 691.3,458.3 691.4,457.3 691.7,453.5 691.7,453.4 691.7,451.7 691.8,448.5 691.9,449.6 692.2,447.8 692.5,444.7 692.5,444.4 692.6,441.1 692.8,440.6 693.1,439.0 693.1,436.5 693.3,437.5 693.3,435.7 693.3,433.9 693.8,432.7 693.9,431.5 694.2,429.5 694.3,428.3 694.5,427.2 694.7,425.0 694.8,426.5 695.0,426.9 695.2,430.8 695.4,431.4 695.8,432.8 696.0,435.4 696.3,435.6 696.3,436.4 696.7,438.9 696.7,436.7 696.8,435.9 696.9,434.2 697.4,433.3 697.4,431.6 697.4,429.3 697.4,429.2 697.7,426.1 697.7,425.5 698.1,423.2 698.1,421.7 698.1,422.8 698.5,424.7 698.5,426.0 698.7,428.4 698.7,428.0 699.2,431.0 699.2,432.1 699.4,433.0 699.4,435.0 699.8,433.1 700.8,433.0 701.1,431.7 701.2,433.5 701.3,434.3 701.4,435.6 701.7,439.4 702.3,439.7 702.3,441.1 702.3,438.8 702.9,439.1 703.1,436.7 703.1,435.9 703.5,433.7 703.9,432.2 704.2,435.1 704.6,435.3 705.0,436.3 705.6,438.3 705.9,436.4 706.1,436.0 706.5,434.3 706.8,432.6 706.9,431.4 707.0,430.2 707.3,427.5 707.8,427.2 707.8,429.0 708.0,429.7 708.3,431.7 708.5,433.4 708.7,434.8 708.9,436.1 709.2,437.8 710.0,437.8 711.0,436.3 712.2,435.6 713.0,434.6 713.6,432.7 713.9,432.8 714.2,431.5 714.2,429.5 714.3,428.4 714.3,427.3 714.4,425.9 714.4,424.2 714.4,422.4 714.4,420.6 714.4,419.4 714.9,418.6 715.4,418.3 716.1,416.1 716.2,418.5 716.3,419.0 716.6,420.1 717.0,421.4 717.2,423.6 717.5,424.2 717.8,426.7 718.0,424.3 718.8,422.9 719.2,423.2 719.4,420.6 719.9,421.3 720.6,422.8 720.6,421.7 720.7,419.5 720.7,418.5 720.7,416.6 720.7,414.9 720.8,413.9 720.8,412.2 721.0,409.2 721.4,408.4 721.7,407.8 721.7,408.0 721.9,404.8 722.0,401.3 722.4,401.4 722.4,400.0 722.6,398.1 722.6,396.7 722.6,396.4 723.2,394.1 723.2,392.3 723.4,391.8 723.4,390.4 723.9,388.3 723.9,386.7 724.1,386.2 724.6,383.7 725.0,382.2 725.1,379.7 725.4,379.0 725.7,379.4 726.1,376.7 726.7,379.1 727.6,378.9 727.8,379.4 727.8,381.8 727.8,383.5 727.8,385.4 728.0,385.1 728.2,388.8 728.3,390.1 728.3,390.9 728.3,394.1 728.3,394.6 728.3,395.6 728.7,393.9 728.7,393.1 728.8,390.2 728.9,389.9 728.9,387.4 728.9,385.6 729.2,384.3 729.2,383.3 729.4,384.1 729.4,386.9 729.6,387.9 729.6,389.2 729.6,391.0 729.6,392.8 729.8,395.0 729.8,397.0 729.8,398.0 729.8,398.4 730.0,400.6 730.3,397.8 730.6,396.9 730.7,394.8 731.0,395.5 731.4,392.3 731.7,391.1 732.0,392.7 732.6,393.2 732.8,394.4 733.6,396.3 734.2,397.2 734.2,395.4 734.2,393.5 734.3,391.5 734.3,391.2 734.5,390.1 734.5,387.3 734.9,386.9 734.9,385.8 735.0,383.3 735.8,384.4 735.9,382.6 735.9,381.1 735.9,380.3 735.9,378.5 736.2,376.8 736.2,375.9 736.2,372.9 736.2,372.3 736.2,369.6 736.2,370.0 736.4,368.4 736.4,367.8 736.6,366.7 736.7,364.4 736.7,361.9 736.9,362.8 736.9,360.6 736.9,359.3 737.1,357.8 737.5,356.4 737.6,355.0 737.7,357.1 738.1,358.1 738.1,359.8 738.7,361.2 738.7,362.8 738.7,361.7 739.0,359.6 739.1,357.9 739.1,357.4 739.2,355.4 739.3,353.7 739.5,351.3 739.8,350.6 740.1,348.3 740.1,347.5 740.1,345.4 740.1,345.5 740.3,342.7 740.6,341.7 741.1,340.6 741.4,340.0 741.4,340.9 741.5,343.5 741.9,343.4 742.1,346.7 742.2,349.0 742.2,349.4 742.6,350.9 742.8,352.5 743.1,353.9 743.3,355.0 743.3,356.8 743.4,357.5 743.5,358.9 743.5,359.5 743.8,361.9 743.9,363.7 743.9,365.0 744.2,364.3 744.2,361.1 744.5,359.9 744.6,359.4 745.0,358.3 746.1,359.4 746.1,360.4 746.4,362.5 746.5,362.4 746.5,365.5 746.6,366.1 746.6,369.2 746.6,370.0 746.7,371.1 747.2,372.0 747.4,373.7 747.4,374.6 747.7,376.6 748.0,377.8 748.5,378.3 748.7,380.2 748.9,381.6 749.4,382.8 749.6,380.9 749.9,379.1 749.9,378.1 750.3,376.1 750.5,375.7 750.6,373.3 751.6,372.8 752.2,373.3 753.0,375.0 753.3,375.6 753.5,376.8 753.7,378.4 754.1,380.1 754.2,381.9 754.2,383.8 754.2,385.3 754.6,387.4 754.7,387.8 754.7,386.8 754.7,385.3 755.1,383.5 755.1,382.2 755.1,380.2 755.1,378.7 755.1,377.1 755.1,375.6 755.4,373.5 755.4,371.7 755.4,371.1 755.4,369.6 755.6,367.6 755.6,366.1 755.8,368.6 756.3,367.6 756.4,369.4 756.7,371.1 757.8,372.2 758.0,373.3 758.0,375.0 758.5,376.1 758.5,379.0 758.5,380.2 759.0,380.8 759.0,382.2 759.0,384.4 759.1,385.3 759.5,385.7 759.6,387.3 759.8,388.9 760.1,387.7 760.1,386.4 760.5,383.4 760.8,381.3 760.8,380.0 760.8,380.2 761.1,377.8 761.2,375.3 761.3,374.5 761.3,374.1 761.7,372.2 762.1,371.3 762.7,371.6 763.1,368.9 763.1,368.3 763.5,364.9 763.5,364.9 763.5,360.4 763.6,361.2 763.6,359.4 764.0,360.4 764.5,362.6 765.0,363.9 765.1,365.0 765.5,367.1 765.7,367.7 766.0,370.1 766.0,371.0 766.1,372.8 766.2,370.8 766.9,368.7 766.9,367.4 767.2,366.7 767.9,364.9 768.2,364.0 768.9,362.2 768.9,359.1 768.9,359.0 768.9,357.8 769.0,356.0 769.0,353.7 769.3,352.6 769.3,350.5 769.4,349.4 769.4,348.5 769.6,344.6 769.7,345.6 769.7,342.9 769.7,341.3 769.7,341.8 769.7,337.6 769.7,336.6 769.8,334.5 769.8,335.1 769.8,332.8 770.7,331.8 771.1,331.7 771.4,330.8 771.4,330.1 771.8,328.7 772.0,326.1 772.6,324.5 773.3,325.0 773.4,326.8 774.0,326.3 774.1,328.8 774.6,330.6 774.7,331.7 774.7,331.4 774.9,330.4 774.9,325.5 775.0,325.1 775.1,322.4 775.2,321.9 775.5,322.0 775.6,319.4 775.6,316.8 776.2,316.3 776.3,315.7 776.3,313.1 776.6,312.4 776.7,310.0 777.2,310.8 777.3,311.5 777.8,313.9 777.8,316.6 778.3,315.1 778.4,318.0 778.4,319.4 778.4,319.3 778.4,322.4 778.4,323.2 778.6,324.7 778.6,327.2 778.6,329.4 778.6,330.0 778.7,332.0 778.7,333.2 778.7,333.8 779.0,336.1 779.2,338.1 779.2,340.0 779.2,342.2 779.2,342.8 779.2,340.9 779.6,338.5 779.8,338.2 779.8,336.3 780.1,335.1 780.2,333.4 780.2,331.7 780.4,333.8 780.7,335.5 780.7,335.8 780.7,339.1 780.8,340.0 780.8,341.8 780.9,342.8 780.9,344.6 780.9,346.3 781.0,347.1 781.2,349.8 781.3,348.7 781.6,352.9 781.6,353.2 781.6,355.3 781.7,356.9 781.7,358.3 782.5,359.7 782.8,360.6 782.9,361.3 782.9,363.6 782.9,364.3 783.4,365.2 783.4,367.2 784.4,368.3 784.7,369.6 784.7,371.1 784.9,371.9 784.9,374.7 784.9,374.7 785.0,376.7 785.3,378.4 785.3,379.5 785.5,379.3 785.8,383.4 786.0,383.0 786.1,385.6 786.2,386.1 786.2,390.0 786.4,390.2 786.4,391.8 786.4,393.6 786.4,394.6 786.4,394.9 786.4,398.6 786.4,398.9 786.5,401.3 786.6,401.3 786.9,402.4 786.9,405.3 786.9,405.5 787.3,408.0 787.3,408.9 787.3,409.4 787.4,411.1 787.5,412.6 787.5,414.9 787.5,416.8 787.5,418.7 787.5,419.5 787.6,421.2 787.6,422.4 787.6,425.3 787.7,424.4 787.7,428.4 787.7,429.5 787.7,430.1 787.7,430.3 787.7,433.3 787.7,435.8 787.8,435.6 787.8,438.3 787.8,439.7 787.8,441.0 787.8,441.8 787.8,444.8 787.8,446.9 787.8,446.2 787.8,450.7 787.9,450.7 787.9,452.9 787.9,453.9 787.9,452.3 787.9,450.5 787.9,448.8 788.0,449.0 788.1,446.5 788.4,444.9 788.5,442.9 788.5,441.8 788.7,440.3 788.8,439.9 788.8,437.8 788.8,437.1 788.9,434.3 789.0,432.5 789.6,432.6 789.6,430.6 789.8,428.9 790.3,426.9 790.6,425.7 790.9,425.6 791.0,424.7 791.2,421.1 791.2,422.3 791.2,419.3 791.2,417.9 791.2,418.0 791.2,414.7 791.2,415.1 791.2,412.5 791.2,411.1 791.2,409.5 791.4,409.1 791.5,406.0 791.5,405.2 791.5,404.8 791.6,401.6 791.6,399.1 791.6,398.4 791.8,397.9 791.8,396.1 791.8,397.5 792.4,399.1 792.5,401.1 792.8,402.2 793.0,403.6 793.1,404.5 793.3,407.2 793.3,408.4 793.3,409.0 793.7,410.2 793.7,414.6 793.8,412.7 793.9,415.0 794.0,413.9 794.3,410.8 794.3,408.9 794.3,410.0 794.4,407.4 794.4,405.4 794.7,405.2 794.7,402.7 794.7,400.8 795.0,399.2 795.0,399.0 795.0,396.7 795.8,395.6 796.1,394.3 796.1,392.8 796.2,391.0 796.3,389.4 796.7,387.0 796.7,386.7 797.0,388.4 797.0,390.2 797.1,391.8 797.1,393.8 797.6,395.4 797.6,395.8 797.8,397.8 798.1,399.8 798.1,400.6 798.1,403.6 798.1,403.7 798.1,405.9 798.4,406.3 798.4,408.9 798.4,410.0 798.4,410.5 798.7,411.8 798.8,415.0 798.8,416.8 798.8,418.7 798.8,419.5 798.9,421.2 799.0,422.4 799.2,424.7 799.2,425.6 799.5,426.6 799.5,428.1 799.6,431.8 800.0,431.1 800.5,429.7 800.9,429.4 800.9,431.7 800.9,432.3 800.9,434.4 800.9,435.5 801.2,436.3 801.2,437.7 801.2,438.8 801.2,442.8 801.2,443.7 801.2,444.4 801.2,445.1 801.2,446.9 801.5,450.9 801.5,450.7 801.5,452.1 801.6,453.2 801.6,455.1 801.7,456.0 801.7,456.6 801.7,459.7 801.7,461.2 801.7,462.8 801.9,462.0 801.9,459.9 802.4,457.2 802.8,458.0 802.8,456.3 803.1,454.4 803.3,452.9 803.3,452.7 803.4,450.8 803.5,447.6 803.5,446.6 803.5,445.0 803.7,443.3 803.7,443.0 803.7,441.2 803.7,438.9 803.9,436.7 804.1,436.7 804.1,435.4 804.1,432.8 804.3,431.2 804.7,428.9 804.7,428.3 805.2,429.7 806.1,431.1 806.1,433.1 806.2,433.1 806.5,435.0 806.6,436.4 806.7,438.4 806.8,440.6 806.8,441.9 807.3,443.5 807.3,445.0 807.3,443.1 807.5,442.9 807.7,441.3 808.0,439.5 808.3,437.5 808.3,436.7 808.8,437.4 808.8,440.0 808.8,441.5 809.1,443.1 809.4,444.4 809.6,444.0 809.8,442.4 810.0,438.7 810.2,439.0 810.6,437.8 810.9,439.0 811.0,441.3 811.0,441.7 811.0,443.8 811.1,445.6 811.5,445.6 811.5,448.7 811.5,449.7 811.9,450.7 812.0,452.2 812.0,449.6 812.3,448.9 812.3,447.2 812.4,446.5 812.6,445.0 812.9,443.7 813.2,442.4 813.2,440.4 813.2,439.7 813.3,437.8 813.5,435.3 813.5,435.4 814.1,434.1 814.2,432.1 814.2,431.0 814.2,429.2 814.4,427.2 815.2,428.1 815.4,429.0 816.1,431.1 816.3,433.9 816.4,433.7 816.9,435.4 817.1,437.4 817.2,438.9 817.3,438.4 817.9,440.6 818.0,443.0 818.2,443.9 818.7,445.6 818.7,443.1 819.0,442.1 819.0,440.5 819.3,440.7 819.3,438.4 819.4,437.0 819.4,435.6 819.6,437.4 820.4,437.0 820.6,438.9 820.6,437.3 820.8,435.6 820.8,434.7 821.0,433.0 821.1,432.1 821.1,430.0 821.2,429.2 821.2,426.3 821.2,425.6 822.2,426.7 822.2,426.1 822.4,423.3 822.4,421.4 822.5,420.6 822.5,418.6 822.6,417.2 822.8,415.2 822.8,414.4 823.0,413.0 823.6,411.7 823.8,412.5 823.9,414.5 823.9,416.2 824.3,416.6 824.3,418.2 824.3,420.4 824.5,421.5 824.7,423.3 825.0,420.4 825.0,420.4 825.1,419.5 825.5,416.3 825.6,415.6 826.2,417.6 827.2,417.8 827.5,419.4 827.6,422.1 827.6,421.5 827.6,422.9 828.2,425.2 828.2,427.0 828.3,428.3 828.6,425.9 828.6,423.6 828.7,423.6 828.8,422.6 828.8,420.1 828.8,419.3 828.9,417.8 829.3,415.8 829.5,413.1 829.5,412.4 830.0,411.8 830.0,410.0 830.2,408.7 830.8,407.3 831.0,405.8 831.1,403.9 831.5,404.7 831.6,406.2 831.6,408.3 831.8,410.6 832.0,411.9 832.2,412.2 832.5,412.9 833.3,414.4 833.6,415.4 834.0,417.0 834.4,418.3 834.7,417.0 834.9,414.9 834.9,415.0 835.2,413.7 835.3,411.1 835.3,409.7 835.6,408.4 835.6,407.8 835.6,403.9 835.6,402.7 835.6,401.1 835.6,401.0 835.6,398.8 835.6,397.2 835.6,394.2 835.7,394.9 835.7,392.2 835.7,392.0 835.7,388.9 835.7,387.2 835.7,386.0 835.7,384.1 835.9,384.1 835.9,381.9 835.9,380.0 835.9,378.4 835.9,375.2 835.9,375.2 836.0,373.3 836.0,369.9 836.0,371.4 836.0,369.0 836.0,367.5 836.1,365.4 836.1,364.4 837.2,363.9 837.2,366.1 837.5,366.8 837.5,367.8 837.5,369.4 837.6,371.8 837.6,373.8 837.6,376.5 837.6,375.9 837.6,377.6 837.6,380.5 837.7,381.2 837.7,382.3 837.9,384.5 838.0,385.8 838.0,387.8 838.0,387.0 838.2,384.5 838.4,383.6 838.4,381.1 838.8,380.6 838.9,378.9 838.9,376.0 839.0,376.3 839.2,374.9 839.2,373.0 839.2,371.0 839.2,369.1 839.2,368.8 839.2,367.8 839.2,365.1 839.2,363.5 839.2,361.7 839.2,360.8 839.2,358.3 839.2,357.8 839.2,356.4 839.2,354.3 839.3,352.3 839.3,351.2 839.4,349.9 839.4,347.5 839.4,346.6 839.4,345.6 839.7,345.8 840.0,343.3 840.0,344.7 840.5,346.4 840.7,348.0 840.8,349.6 840.8,350.7 840.8,353.3 841.1,354.4 841.3,352.1 841.3,350.1 841.3,350.4 841.4,348.7 841.4,346.5 841.4,346.0 841.4,344.0 841.4,342.1 841.4,340.6 841.5,339.0 841.5,339.5 841.5,337.1 841.5,334.7 841.5,334.5 841.5,331.1 841.5,331.7 841.5,329.7 841.5,327.2 841.7,328.8 841.7,329.6 841.8,331.4 842.3,331.7 842.3,333.9 842.5,332.1 842.5,332.0 842.5,329.0 842.5,327.0 842.8,326.8 842.9,324.3 843.1,324.2 843.3,321.7 843.3,319.6 843.3,318.3 843.6,317.3 843.6,315.0 843.6,313.4 843.8,313.3 843.9,311.1 844.1,312.3 844.1,314.7 844.3,317.0 844.3,318.0 844.3,319.4 844.3,320.0 844.4,322.9 844.4,325.2 844.7,325.5 844.7,326.1 844.7,328.3 845.0,330.3 845.0,331.2 845.0,332.8 845.0,335.0 845.2,332.2 845.2,332.4 845.4,330.3 845.4,328.5 845.9,327.3 845.9,325.5 846.0,324.6 846.1,322.8 846.3,321.6 846.3,320.6 846.3,316.9 846.8,316.8 846.9,315.4 846.9,314.1 847.1,311.9 847.1,310.8 847.2,309.4 847.4,308.0 847.6,306.2 847.6,304.9 847.9,304.7 848.0,302.8 848.2,304.2 848.5,305.5 848.7,308.6 848.7,309.9 848.9,310.6 848.9,309.1 848.9,307.9 849.1,305.5 849.2,304.6 849.4,302.1 849.4,302.5 849.4,300.1 849.4,298.7 849.9,296.6 849.9,295.6 849.9,295.8 849.9,299.8 850.2,300.3 850.2,301.1 850.4,303.5 850.4,303.8 850.5,306.0 850.5,308.0 850.5,308.3 850.6,310.6 850.7,309.6 850.7,307.0 850.7,304.9 850.8,304.6 850.8,303.0 851.1,301.0 851.1,299.8 851.1,298.1 851.1,297.0 851.1,294.3 851.1,293.2 851.2,290.7 851.2,289.7 851.2,287.9 851.3,287.2 851.3,288.3 851.3,291.2 851.6,291.5 851.6,292.8 851.6,293.5 851.7,296.0 851.7,299.5 851.8,300.1 851.8,300.6 851.8,302.8 851.9,303.6 851.9,305.7 851.9,307.7 851.9,308.4 852.1,310.7 852.2,311.4 852.2,312.1 852.2,315.4 852.2,316.1 852.6,315.3 852.6,313.2 852.8,310.3 852.9,310.4 853.3,308.3 853.6,309.1 853.7,311.3 853.7,312.9 853.7,315.3 853.7,314.3 853.8,317.9 854.1,318.8 854.1,320.1 854.1,321.5 854.1,324.5 854.1,325.5 854.1,327.0 854.2,328.0 854.4,329.4 854.4,331.3 854.7,332.1 854.7,333.9 854.7,335.5 854.7,337.6 854.8,338.5 854.8,339.7 854.8,340.3 854.8,342.2 854.9,344.2 854.9,346.1 854.9,343.7 855.0,342.6 855.0,341.6 855.2,339.5 855.5,338.2 855.5,338.2 855.5,336.2 855.7,334.7 856.0,333.1 856.2,330.4 856.2,329.4 856.2,331.6 856.5,334.2 856.6,334.0 856.6,335.7 856.6,338.8 856.7,340.1 856.7,340.6 856.8,339.1 856.8,338.9 856.8,336.8 856.9,334.3 857.1,332.8 857.1,332.6 857.1,330.8 857.1,328.0 857.2,327.2 857.3,324.8 857.6,325.0 857.7,322.6 858.0,320.9 858.1,318.6 858.3,318.3 858.3,316.0 858.8,314.9 859.0,315.0 859.0,312.2 859.0,313.4 859.3,315.5 859.5,316.3 859.7,319.6 859.7,319.2 859.7,321.5 860.0,322.8 860.1,320.4 860.5,320.0 860.6,316.6 860.7,316.6 860.7,315.2 860.8,313.1 861.1,311.7 861.2,310.4 861.2,308.8 861.4,308.4 861.4,305.3 861.4,304.4 861.4,301.7 861.4,301.1 861.5,299.2 861.5,297.7 861.5,296.1 861.5,294.5 861.5,293.1 861.5,290.6 861.5,289.3 861.8,288.9 861.8,286.5 861.8,285.0 861.8,284.6 862.1,283.1 862.2,280.6 862.8,282.1 863.3,282.8 863.5,280.3 863.5,280.4 863.5,279.2 863.6,277.4 863.7,276.7 863.9,273.4 863.9,271.9 864.0,270.6 864.0,269.5 864.0,268.3 864.0,267.4 864.2,265.7 864.3,263.1 864.3,261.4 864.3,260.0 864.3,259.5 864.4,258.5 864.4,256.9 864.4,254.1 864.4,251.7 864.4,251.7 865.0,249.7 865.4,249.1 865.6,247.8 865.7,248.1 865.7,251.4 865.7,253.0 865.7,254.1 865.7,256.6 866.0,257.4 866.0,257.7 866.0,261.3 866.0,262.2 866.0,264.3 866.0,264.8 866.1,266.2 866.1,269.0 866.1,270.1 866.1,271.7 866.1,270.4 866.4,268.8 866.4,266.5 866.4,263.8 866.4,264.0 866.4,262.6 866.4,260.9 866.4,259.4 866.4,257.3 866.6,256.6 866.6,255.4 866.6,252.6 866.8,253.6 866.8,250.6 867.8,250.6 867.8,250.5 867.8,254.5 868.0,254.5 868.0,257.6 868.0,257.0 868.0,259.5 868.0,262.0 868.1,262.7 868.1,265.5 868.2,267.1 868.2,267.4 868.2,269.4 868.2,267.0 868.5,266.6 868.5,264.2 868.5,262.7 868.5,261.3 868.6,258.5 868.9,258.9 868.9,257.2 869.0,258.5 869.5,259.4 870.0,261.7 870.0,262.1 870.1,264.8 870.1,267.3 870.3,267.1 870.3,270.0 870.3,271.1 870.3,271.9 870.3,272.7 870.3,276.1 870.3,276.7 870.3,276.2 870.3,279.4 870.3,279.2 870.5,282.6 870.5,283.4 870.5,286.2 870.5,287.0 870.5,289.2 870.5,290.0 870.6,290.9 870.7,293.0 870.7,295.0 871.3,294.1 871.8,293.5 872.2,292.2 872.2,295.5 872.5,296.7 872.5,296.7 872.5,298.4 872.7,298.4 872.7,301.9 872.8,302.7 872.8,303.8 872.9,306.8 872.9,307.2 872.9,308.1 872.9,309.9 873.2,312.6 873.2,314.2 873.2,314.2 873.3,314.9 873.3,317.5 873.3,318.3 873.6,320.5 873.6,321.0 873.6,323.3 873.8,322.4 873.8,320.8 873.8,320.1 874.0,318.0 874.0,316.5 874.2,314.8 874.2,312.4 874.2,312.1 874.4,310.2 874.5,310.0 874.5,307.2 875.6,306.7 875.6,304.1 875.7,303.5 876.0,302.2 876.0,301.5 876.1,299.4 876.7,300.6 876.9,302.8 877.4,302.9 877.6,305.0 877.9,303.5 878.0,300.9 878.0,300.5 878.0,298.6 878.2,297.4 878.5,295.9 878.5,293.9 878.5,293.0 878.7,289.7 878.7,290.2 878.8,288.5 879.0,286.9 879.0,284.3 879.0,282.5 879.2,280.7 879.2,280.0 879.4,281.8 879.6,283.8 879.6,284.1 879.8,287.0 879.8,287.0 880.0,289.2 880.0,290.6 880.5,289.0 880.5,286.5 881.1,286.9 881.2,283.6 881.7,282.8 881.9,284.5 882.1,285.9 882.1,287.1 882.2,288.5 882.4,291.1 882.4,293.1 882.4,293.3 882.6,296.0 882.6,297.2 882.8,298.3 882.8,297.6 883.0,295.3 883.2,294.7 883.3,294.0 883.3,290.4 883.5,289.7 883.7,286.0 883.7,287.2 883.9,285.0 884.1,284.1 884.7,282.5 885.0,281.4 885.2,279.3 885.6,278.3 885.6,278.9 885.6,281.0 885.9,282.1 886.3,283.1 886.3,285.8 886.4,286.4 886.4,288.1 886.6,289.4 886.8,292.5 886.9,292.8 887.0,291.6 887.1,289.4 887.3,288.7 887.8,287.4 887.8,284.9 888.2,284.6 888.3,282.8 888.6,282.9 889.3,284.5 889.4,286.1 889.5,284.4 889.5,281.9 889.5,281.2 889.5,280.0 889.5,279.7 889.7,277.6 889.7,274.1 889.7,273.6 889.7,273.1 889.7,269.6 889.8,269.8 889.8,267.2 890.0,266.6 890.0,264.4 890.0,263.2 890.0,261.7 890.1,263.0 890.1,264.6 890.5,265.4 890.5,266.2 890.5,268.5 890.7,270.4 890.7,271.3 891.0,273.2 891.1,275.8 891.1,276.1 891.3,273.5 891.3,273.5 891.5,270.6 891.5,269.9 891.5,268.4 891.6,267.7 891.6,265.5 891.9,263.1 891.9,263.5 892.0,261.1 892.5,260.8 893.3,258.9 893.4,260.5 893.8,262.9 893.9,264.2 894.0,265.0 894.3,266.2 894.3,268.3 894.5,269.6 894.5,272.0 894.5,272.9 894.5,272.9 894.7,276.5 894.8,277.3 894.8,279.0 894.8,280.5 894.8,282.3 894.8,283.7 894.8,285.4 895.0,286.1 895.1,288.8 895.1,289.4 895.2,287.0 895.2,287.8 895.2,284.3 895.4,283.5 895.5,281.6 895.5,280.2 895.5,280.0 895.5,277.6 895.5,276.2 895.6,273.8 895.6,273.2 895.9,272.3 895.9,270.3 895.9,268.3 895.9,270.9 896.0,271.6 896.0,273.1 896.2,274.4 896.5,275.4 896.5,277.6 896.5,279.1 896.5,280.8 896.7,281.7 896.9,279.9 897.0,277.6 897.0,278.7 897.0,273.9 897.1,273.6 897.1,272.8 897.1,269.8 897.2,269.9 897.2,267.9 897.2,266.0 897.2,265.0 897.5,267.5 897.5,269.6 897.9,269.9 897.9,269.6 898.2,272.7 898.3,273.9 898.3,273.3 898.8,271.2 899.0,269.3 899.2,267.5 899.2,267.0 899.4,265.2 899.4,263.9 899.7,262.2 899.7,260.6 899.7,258.0 899.7,256.8 899.7,256.5 899.7,254.1 899.8,252.8 900.9,253.9 900.9,256.6 900.9,256.9 901.1,259.4 901.1,259.3 901.1,260.0 901.2,264.0 901.2,267.0 901.3,266.1 901.8,265.6 901.8,263.9 902.3,260.8 902.3,259.5 902.8,258.9 902.8,260.4 903.1,261.9 903.1,262.9 903.1,264.7 903.1,266.7 903.1,266.2 903.1,268.4 903.1,270.6 903.1,272.6 903.1,273.6 903.1,275.0 903.1,277.0 903.4,278.9 903.4,279.2 903.4,281.0 903.4,281.4 903.4,284.5 903.4,286.6 903.4,287.2 903.7,289.0 904.0,290.6 904.0,291.8 904.1,292.7 904.6,294.0 904.8,295.6 905.0,292.8 905.1,291.6 905.1,290.9 905.1,289.0 905.3,287.2 905.3,286.2 905.3,285.0 905.4,283.3 905.4,281.2 905.5,281.0 905.9,278.4 905.9,277.9 905.9,276.1" fill="none" stroke="#0070c0" stroke-width="2.85" stroke-linejoin="round" stroke-linecap="round"/>
  <g font-family="'Liberation Sans',sans-serif" font-weight="700" font-size="14.4" fill="#595959" stroke="#595959" stroke-width="0.25">
<text x="147.8" y="213.7" text-anchor="end">1.4</text>
<text x="147.8" y="245.6" text-anchor="end">1.3</text>
<text x="147.8" y="278.3" text-anchor="end">1.2</text>
<text x="147.8" y="311.1" text-anchor="end">1.1</text>
<text x="147.8" y="344.0" text-anchor="end">1.0</text>
<text x="147.8" y="376.0" text-anchor="end">0.9</text>
<text x="147.8" y="408.9" text-anchor="end">0.8</text>
<text x="147.8" y="441.7" text-anchor="end">0.7</text>
<text x="147.8" y="473.9" text-anchor="end">0.6</text>
<text x="147.8" y="506.8" text-anchor="end">0.5</text>
<text x="165.9" y="528.9" text-anchor="middle" font-size="15" letter-spacing="0.45">2015</text>
<text x="239.4" y="528.9" text-anchor="middle" font-size="15" letter-spacing="0.45">2016</text>
<text x="312.8" y="528.9" text-anchor="middle" font-size="15" letter-spacing="0.45">2017</text>
<text x="386.3" y="528.9" text-anchor="middle" font-size="15" letter-spacing="0.45">2018</text>
<text x="459.8" y="528.9" text-anchor="middle" font-size="15" letter-spacing="0.45">2019</text>
<text x="533.2" y="528.9" text-anchor="middle" font-size="15" letter-spacing="0.45">2020</text>
<text x="606.7" y="528.9" text-anchor="middle" font-size="15" letter-spacing="0.45">2021</text>
<text x="680.2" y="528.9" text-anchor="middle" font-size="15" letter-spacing="0.45">2022</text>
<text x="753.7" y="528.9" text-anchor="middle" font-size="15" letter-spacing="0.45">2023</text>
<text x="827.1" y="528.9" text-anchor="middle" font-size="15" letter-spacing="0.45">2024</text>
<text x="900.6" y="528.9" text-anchor="middle" font-size="15" letter-spacing="0.45">2025</text>
  </g>
</svg>
<div id="pink1" class="abs"></div>
<div id="redbar" class="abs"></div>
<div id="strip" class="abs"></div>
<div id="strip2" class="abs"></div>
<div id="strip3" class="abs"></div>
<div id="t1" class="abs title">国投策略林荣雄团队</div>
<div id="t2" class="abs title">当前高切低<i>：</i><b>A</b>股科技风格和顺周期风格分化处于历史高位，但收敛尚待明确</div>
<div id="sub" class="abs">图：<b>A</b>股科技风格和顺周期的分化情况</div>
<div id="legend" class="abs">科技<span>/</span>顺周期</div>
<div id="footer" class="abs">资料来源：<span style="letter-spacing:0.55px;font-size:19.2px;line-height:10px">Wind</span><span style="margin-left:1.2px">，</span>国投证券证券研究所</div>
<div id="wm" class="abs">激活 <span style="letter-spacing:1.2px">Windows</span></div>
<div id="pg" class="abs">32</div>
</body>
</html>
